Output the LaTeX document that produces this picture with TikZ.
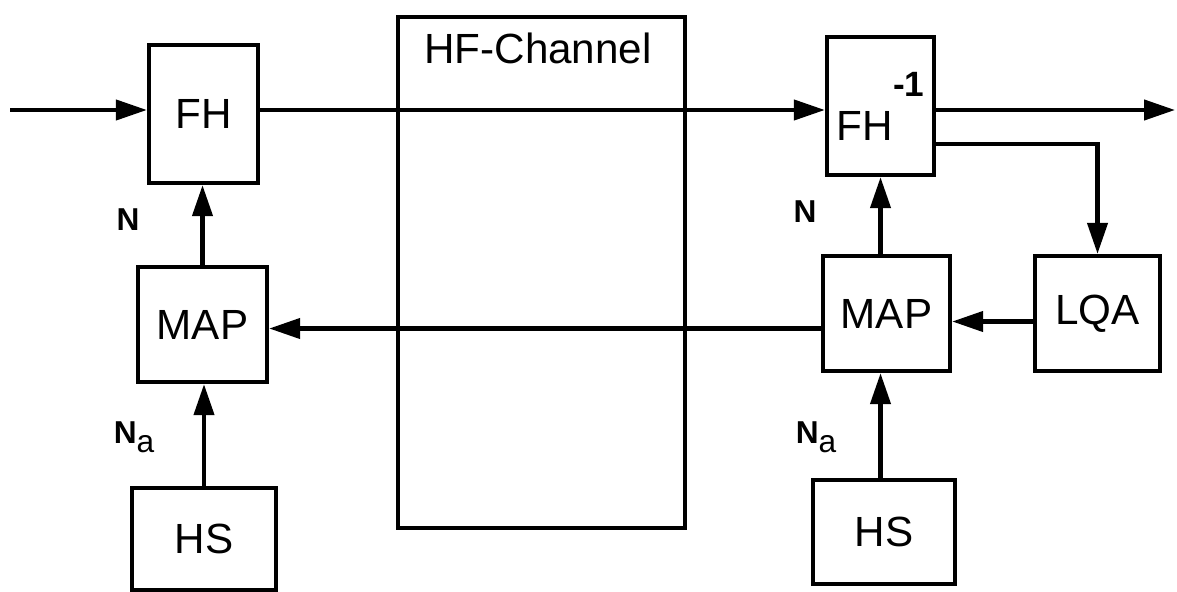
\documentclass[tikz,border=0pt]{standalone}
\usepackage{fontspec}
\setmainfont{Liberation Sans}
\usepackage{tikz}
\usetikzlibrary{arrows.meta,positioning}
\tikzset{
  hf diagram/.style={font=\fontsize{12}{14}\selectfont, line width=1.2pt,
    x=0.01cm, y=-0.01cm},
  hf box/.style={draw, inner sep=0pt, line width=1.2pt},
  hf arrow/.style={-{Triangle[length=3.1mm,width=2mm]}, line width=1.2pt},
  hf label/.style={font=\fontsize{9}{10}\selectfont\bfseries, inner sep=0pt}
}

\begin{document}
\begin{tikzpicture}[hf diagram]
\useasboundingbox (0,0) rectangle (1177,591);
\foreach \nd/\px/\py/\bw/\bh/\txt in {fh/203.5/114/1.09/1.38/FH,mapL/202.5/324.5/1.29/1.15/MAP,hsL/204/539/1.44/1.02/HS,chan/541.5/272.5/2.87/5.11/{},fhi/880.5/106/1.07/1.38/{FH\raisebox{12.5pt}{\fontsize{10}{10}\selectfont\bfseries -1}},mapR/886.5/313.5/1.27/1.15/MAP,lqa/1097.5/313.5/1.25/1.15/LQA,hsR/884/532/1.42/1.04/HS}{
  \node[hf box,minimum width=\bw cm,minimum height=\bh cm] (\nd) at (\px,\py) {\txt};
}
\node (chanlab) at (538,48) {HF-Channel};
\coordinate (in) at (10,110);
\coordinate (out) at (1175,110);
\draw[hf arrow] (in) -- (in -| fh.west);
\draw[hf arrow] (fh.east |- in) -- (fhi.west |- in);
\draw[hf arrow] (fhi.east |- out) -- (out);
\draw[hf arrow] ([yshift=-0.38cm]fhi.east) -| (lqa.north);
\draw[hf arrow] ([yshift=-0.08cm]lqa.west) -- ([yshift=-0.08cm]mapR.east);
\draw[hf arrow] ([yshift=-0.15cm]mapR.west) -- ([yshift=-0.15cm]mapR.west -| mapL.east);
\draw[hf arrow] (mapL.north) -- (mapL.north |- fh.south);
\draw[hf arrow] (hsL.north) -- (hsL.north |- mapL.south);
\draw[hf arrow] (mapR.north -| fhi.south) -- (fhi.south);
\draw[hf arrow] (hsR.north -| fhi.south) -- (mapR.south -| fhi.south);
\node[hf label] (nL) at (128,220) {N};
\node[hf label] (naL) at (134,437) {N\raisebox{-2.6pt}{\mdseries a}};
\node[hf label] (nR) at (805,212) {N};
\node[hf label] (naR) at (816,437) {N\raisebox{-2.6pt}{\mdseries a}};
\end{tikzpicture}
\end{document}
